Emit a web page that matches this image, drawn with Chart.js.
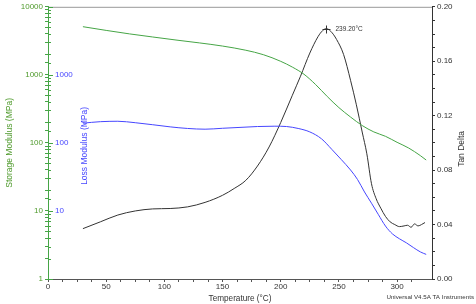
<!DOCTYPE html>
<html>
<head>
<meta charset="utf-8">
<script src="https://cdn.jsdelivr.net/npm/chart.js@4.4.0/dist/chart.umd.min.js"></script>
<style>
  html, body { margin: 0; padding: 0; background: #fff; }
  #wrap { width: 476px; height: 304px; }
</style>
</head>
<body>
<div id="wrap"><canvas id="dma"></canvas></div>
<script>
// storage modulus (MPa) vs temperature (°C)
const storageTemp = [30, 50, 70, 90, 110, 130, 150, 170, 185, 200, 210, 220, 230, 240, 250, 260, 270, 280, 290, 300, 310, 320, 325];
const storageMod = [5100, 4500, 4000, 3600, 3250, 2950, 2650, 2300, 1980, 1580, 1300, 1020, 720, 480, 330, 240, 180, 145, 125, 102, 84, 65, 56];

// loss modulus (MPa)
const lossTemp = [30, 45, 60, 75, 90, 105, 120, 135, 150, 165, 180, 195, 205, 215, 225, 235, 244, 252, 260, 266, 272, 278, 284, 290, 296, 302, 308, 314, 320, 325];
const lossMod = [195, 205, 208, 198, 185, 172, 163, 159, 164, 169, 174, 176, 174, 163, 145, 115, 80, 57, 40, 29, 19, 13, 8.8, 6, 4.6, 3.9, 3.4, 2.9, 2.5, 2.3];

// tan delta
const tanTemp = [30, 45, 60, 75, 90, 105, 120, 135, 150, 160, 170, 180, 190, 200, 210, 217, 225, 232, 236, 239.2, 243, 248, 254, 260, 265, 270, 274, 278, 282, 286, 290, 294, 298, 302, 306, 309, 312, 315, 318, 321, 324];
const tanDelta = [0.037, 0.042, 0.047, 0.050, 0.0515, 0.0518, 0.053, 0.0563, 0.0615, 0.0665, 0.0725, 0.083, 0.097, 0.115, 0.135, 0.149, 0.166, 0.178, 0.1825, 0.184, 0.182, 0.176, 0.165, 0.146, 0.128, 0.108, 0.092, 0.070, 0.059, 0.052, 0.046, 0.042, 0.040, 0.0385, 0.039, 0.0395, 0.038, 0.0405, 0.039, 0.040, 0.0415];

const modulusLabels = [1, 10, 100, 1000, 10000];
const lossLabels = [10, 100, 1000];
const peakLabel = '239.20°C';

const green = '#46a546';
const greenText = '#4f9a2c';
const blue = '#4646ff';
const black = '#333';
const font = '"Liberation Sans", Arial, sans-serif';

const pts = (xs, ys) => xs.map((x, i) => ({ x: x, y: ys[i] }));

const extras = {
    id: 'extras',
    afterDraw(chart) {
        const { ctx, chartArea: a, scales } = chart;
        ctx.save();

        // top frame line
        ctx.strokeStyle = '#999';
        ctx.lineWidth = 1;
        ctx.beginPath();
        ctx.moveTo(a.left, a.top + 0.5);
        ctx.lineTo(a.right, a.top + 0.5);
        ctx.stroke();

        // inward ticks for the loss modulus side
        ctx.strokeStyle = green;
        scales.y.ticks.forEach(t => {
            const yy = Math.round(scales.y.getPixelForValue(t.value)) + 0.5;
            const len = modulusLabels.includes(t.value) ? 5 : 3;
            ctx.beginPath();
            ctx.moveTo(a.left, yy);
            ctx.lineTo(a.left + len, yy);
            ctx.stroke();
        });

        // loss modulus labels
        ctx.fillStyle = blue;
        ctx.font = '8px ' + font;
        ctx.textAlign = 'left';
        ctx.textBaseline = 'middle';
        lossLabels.forEach(v => {
            ctx.fillText(String(v), a.left + 7, scales.y.getPixelForValue(v));
        });

        // rotated titles
        ctx.font = '8.5px ' + font;
        ctx.textAlign = 'center';
        ctx.save();
        ctx.translate(85, (a.top + a.bottom) / 2 + 3);
        ctx.rotate(-Math.PI / 2);
        ctx.fillText('Loss Modulus (MPa)', 0, 0);
        ctx.restore();

        ctx.fillStyle = black;
        ctx.save();
        ctx.translate(462, (a.top + a.bottom) / 2 + 6);
        ctx.rotate(-Math.PI / 2);
        ctx.fillText('Tan Delta', 0, 0);
        ctx.restore();

        // peak marker
        const i = tanDelta.indexOf(Math.max(...tanDelta));
        const px = Math.round(scales.x.getPixelForValue(tanTemp[i])) + 0.5;
        const py = Math.round(scales.y2.getPixelForValue(tanDelta[i])) + 0.5;
        ctx.strokeStyle = black;
        ctx.beginPath();
        ctx.moveTo(px - 4, py); ctx.lineTo(px + 4, py);
        ctx.moveTo(px, py - 4); ctx.lineTo(px, py + 4);
        ctx.stroke();
        ctx.font = '6.5px ' + font;
        ctx.textAlign = 'left';
        ctx.fillText(peakLabel, px + 9, py);

        // footer
        ctx.font = '6.2px ' + font;
        ctx.textAlign = 'right';
        ctx.fillText('Universal V4.5A TA Instruments', 474, 297);

        ctx.restore();
    }
};

new Chart(document.getElementById('dma'), {
    type: 'line',
    data: {
        datasets: [
            { label: 'Storage Modulus', data: pts(storageTemp, storageMod), yAxisID: 'y', borderColor: green },
            { label: 'Loss Modulus', data: pts(lossTemp, lossMod), yAxisID: 'y', borderColor: blue },
            { label: 'Tan Delta', data: pts(tanTemp, tanDelta), yAxisID: 'y2', borderColor: black }
        ]
    },
    options: {
        responsive: true,
        maintainAspectRatio: false,
        animation: false,
        devicePixelRatio: 1,
        layout: { padding: { top: 6, left: 0, right: 0, bottom: 0 } },
        elements: {
            line: { borderWidth: 1, cubicInterpolationMode: 'monotone', fill: false },
            point: { radius: 0 }
        },
        plugins: { legend: { display: false }, tooltip: { enabled: false } },
        scales: {
            x: {
                type: 'linear',
                min: 0,
                max: 330,
                afterBuildTicks: s => { s.ticks = s.ticks.filter(t => t.value % 12.5 === 0); },
                afterFit: s => { s.height = 25; },
                ticks: {
                    stepSize: 12.5,
                    autoSkip: false,
                    maxRotation: 0,
                    padding: 0,
                    color: black,
                    font: { family: font, size: 8 },
                    callback: v => (v % 50 === 0 ? v : '')
                },
                grid: { drawOnChartArea: false, tickLength: 3, color: '#555' },
                border: { color: '#555' },
                title: {
                    display: true,
                    text: 'Temperature (°C)',
                    color: black,
                    font: { family: font, size: 8.2 },
                    padding: { top: 0, bottom: 0 }
                }
            },
            y: {
                type: 'logarithmic',
                position: 'left',
                min: 1,
                max: 10000,
                afterFit: s => { s.width = 48; },
                ticks: {
                    autoSkip: false,
                    padding: 2,
                    color: greenText,
                    font: { family: font, size: 8 },
                    callback: v => (modulusLabels.includes(v) ? String(v) : '')
                },
                grid: { drawOnChartArea: false, tickLength: 3, color: green },
                border: { color: green },
                title: {
                    display: true,
                    text: 'Storage Modulus (MPa)',
                    color: greenText,
                    font: { family: font, size: 8.5 },
                    padding: { top: 5, bottom: 0 }
                }
            },
            y2: {
                type: 'linear',
                position: 'right',
                min: 0,
                max: 0.2,
                afterFit: s => { s.width = 44; },
                ticks: {
                    stepSize: 0.01,
                    autoSkip: false,
                    padding: 2,
                    color: black,
                    font: { family: font, size: 8 },
                    callback: v => (Math.round(v * 100) % 4 === 0 ? v.toFixed(2) : '')
                },
                grid: { drawOnChartArea: false, tickLength: 3, color: black },
                border: { color: black }
            }
        }
    },
    plugins: [extras]
});
</script>
</body>
</html>
